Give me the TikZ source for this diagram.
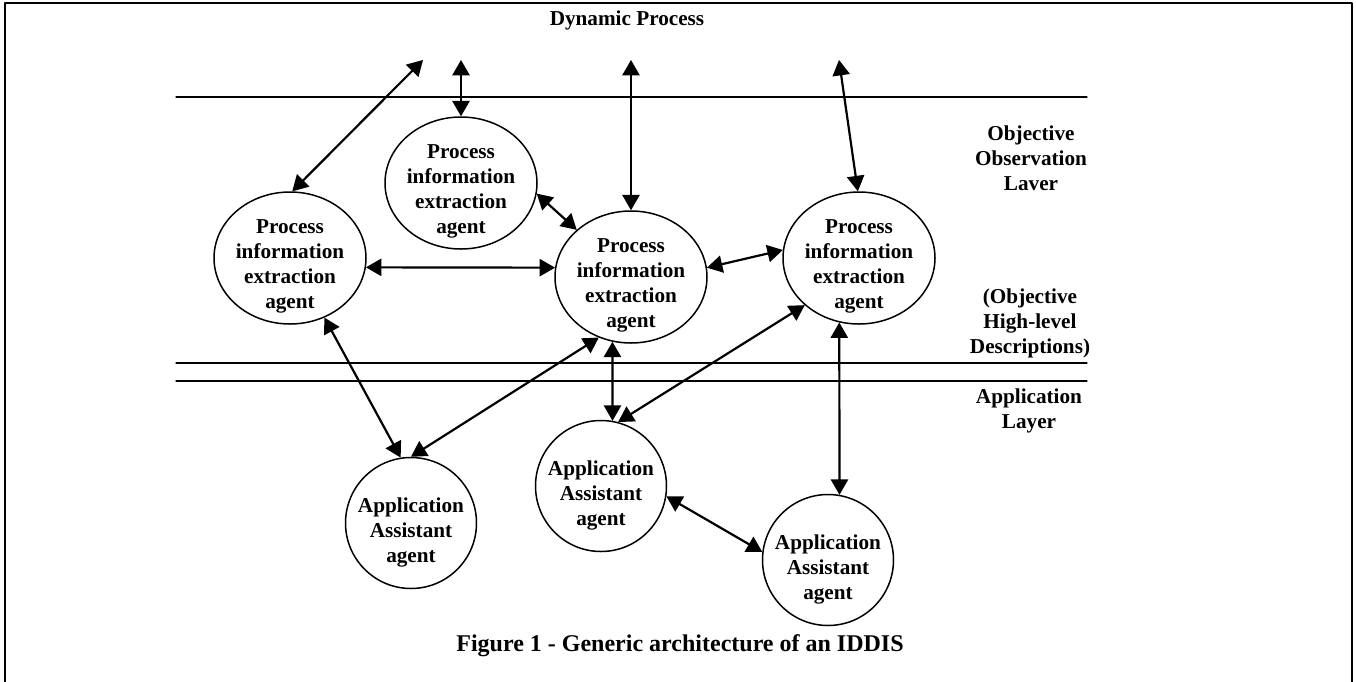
\documentclass[tikz,border=0pt]{standalone}
\usepackage{fontspec}
\setmainfont{Liberation Serif}
\usetikzlibrary{arrows,shapes.geometric}

\begin{document}
\begin{tikzpicture}[line cap=round,line join=round,>=triangle 60,x=0.5pt,y=-0.5pt,
	txt/.style={font=\fontsize{10.6}{12.5}\selectfont\bfseries,align=center},
	pie/.style={draw,ellipse,line width=0.75pt,minimum width=76pt,minimum height=66pt,inner sep=0pt,label={[txt,yshift=-4pt]center:#1}},
	aaa/.style={draw,circle,line width=0.75pt,minimum size=65.5pt,inner sep=0pt,label={[txt,yshift=-4.5pt]center:#1}},
	link/.style={<->,line width=1.1pt},
	layer/.style={line width=0.65pt}]
				\useasboundingbox (0,0) rectangle (1356,681);
				\draw [line width=1.2pt] (5,700) |- (1352,3) -- (1352,700);
				\draw [layer] (176,97)-- (1087,97);
				\draw [layer] (176,363)-- (1087,363);
				\draw [layer] (176,381)-- (1087,381);
				\node[txt] (dyn) at (627,20) {Dynamic Process};
				\node[txt] (obs) at (1031,158) {Objective\\Observation\\Laver};
				\node[txt] (desc) at (1030,323) {(Objective\\High-level\\Descriptions)};
				\node[txt] (app) at (1029,411) {Application\\Layer};
				\node[txt,font=\fontsize{12}{14}\selectfont\bfseries] (cap) at (680,646) {Figure 1 - Generic architecture of an IDDIS};
				\node[pie={Process\\information\\extraction\\agent}] (pieL) at (290,258) {};
				\node[pie={Process\\information\\extraction\\agent}] (pieT) at (461,183) {};
				\node[pie={Process\\information\\extraction\\agent}] (pieC) at (631,277) {};
				\node[pie={Process\\information\\extraction\\agent}] (pieR) at (859,258) {};
				\node[aaa={Application\\Assistant\\agent}] (aaaL) at (411,523) {};
				\node[aaa={Application\\Assistant\\agent}] (aaaM) at (601,486) {};
				\node[aaa={Application\\Assistant\\agent}] (aaaR) at (828,560) {};
				\coordinate (dpL) at (423,60);
				\coordinate (dpT) at (461,60);
				\coordinate (dpC) at (631,60);
				\coordinate (dpR) at (839,60);
				\draw [link] (dpL)-- (pieL.88);
				\draw [link] (dpT)-- (pieT.90);
				\draw [link] (dpC)-- (pieC.90);
				\draw [link] (dpR)-- (pieR.91);
				\draw [link] (pieT.-8)-- (pieC.139);
				\draw [link] (pieL.-7)-- (pieC.173);
				\draw [link] (pieC.7)-- (pieR.174);
				\draw [link] (pieL.-60)-- (aaaL.99);
				\draw [link] (pieC.-118)-- (aaaL.90);
				\draw [link] (pieC.-106)-- (aaaM.80);
				\draw [link] (pieR.-139)-- (aaaM.75);
				\draw [link] (pieR.-107)-- (aaaR.80);
				\draw [link] (aaaM.-9)-- (aaaR.173);
			\end{tikzpicture}
\end{document}
